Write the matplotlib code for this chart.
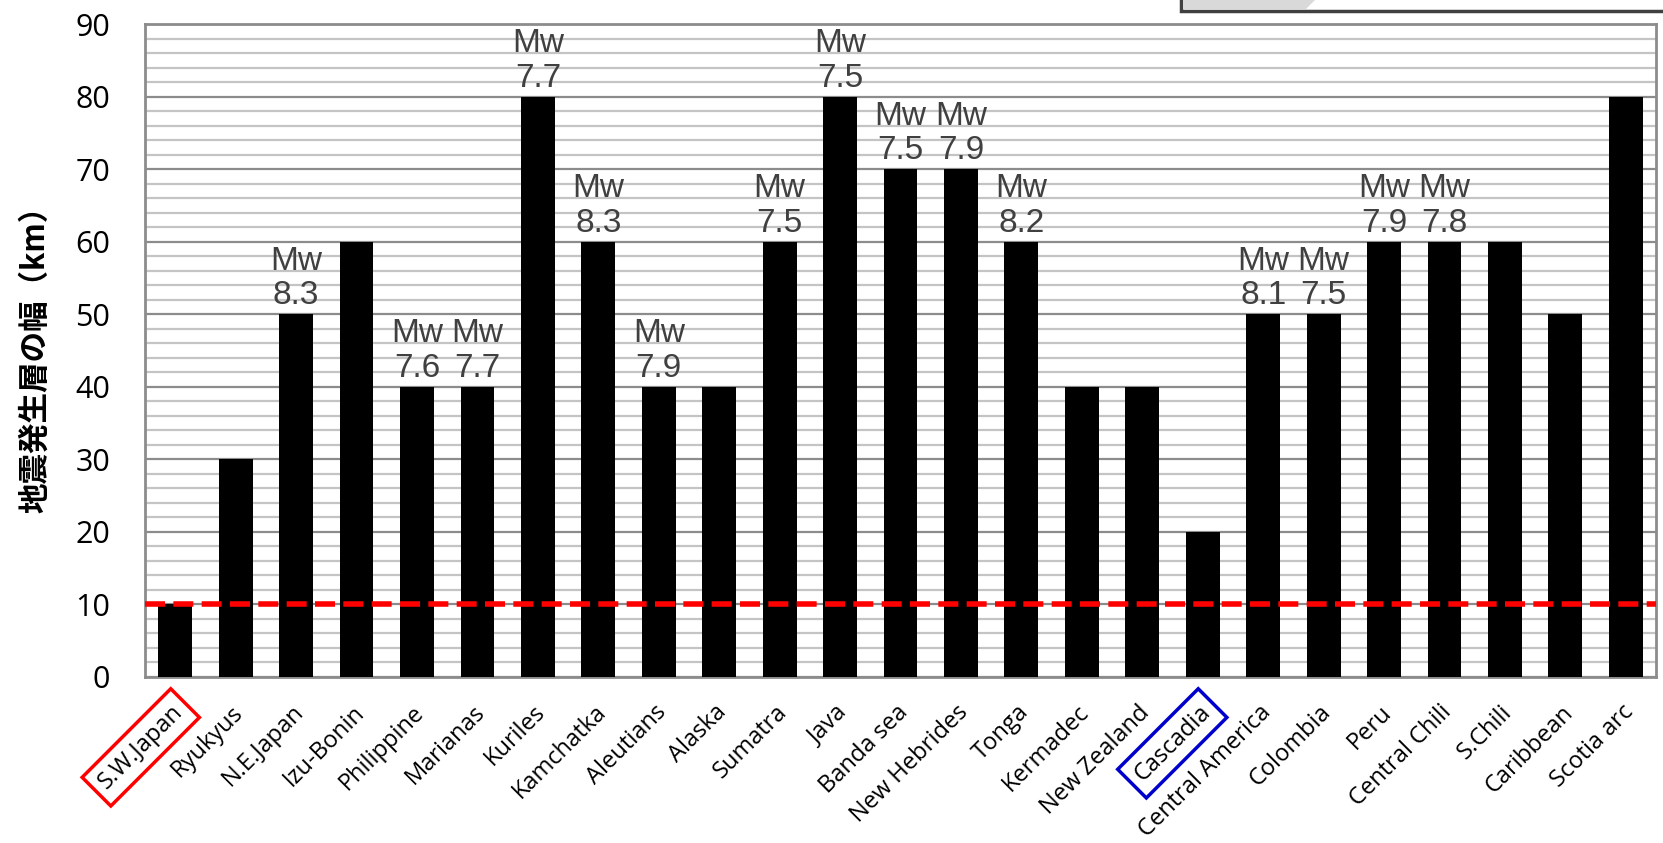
import numpy as np
import matplotlib.pyplot as plt
import matplotlib.transforms as mtransforms
from matplotlib.patches import Rectangle, Polygon
from matplotlib.ticker import MultipleLocator

# Data
regions = ['S.W.Japan', 'Ryukyus', 'N.E.Japan', 'Izu-Bonin', 'Philippine', 'Marianas',
           'Kuriles', 'Kamchatka', 'Aleutians', 'Alaska', 'Sumatra', 'Java', 'Banda sea',
           'New Hebrides', 'Tonga', 'Kermadec', 'New Zealand', 'Cascadia',
           'Central America', 'Colombia', 'Peru', 'Central Chili', 'S.Chili',
           'Caribbean', 'Scotia arc']
width_km = [10, 30, 50, 60, 40, 40, 80, 60, 40, 40, 60, 80, 70, 70, 60, 40, 40, 20,
            50, 50, 60, 60, 60, 50, 80]
mw = [None, None, '8.3', None, '7.6', '7.7', '7.7', '8.3', '7.9', None, '7.5', '7.5',
      '7.5', '7.9', '8.2', None, None, None, '8.1', '7.5', '7.9', '7.8', None, None, None]
boxed = {'S.W.Japan': 'red', 'Cascadia': '#0000cc'}
ref_line = 10

plt.rcParams['font.family'] = ['Noto Sans CJK JP', 'DejaVu Sans']

fig = plt.figure(figsize=(16.63, 8.43), dpi=100)
ax = fig.add_axes([0.0872, 0.197, 0.9086, 0.7745])

x = np.arange(len(regions))
ax.bar(x, width_km, width=0.56, color='black', zorder=3)
ax.axhline(ref_line, color='#ff0000', lw=4, dashes=(3.6, 1.5), zorder=4)

ax.set_xlim(-0.5, len(regions) - 0.5)
ax.set_ylim(0, 90)
ax.yaxis.set_major_locator(MultipleLocator(10))
ax.yaxis.set_minor_locator(MultipleLocator(2))
ax.grid(which='major', axis='y', color='#8c8c8c', lw=1.6, zorder=1)
ax.grid(which='minor', axis='y', color='#c4c4c4', lw=1.6, zorder=1)
for s in ax.spines.values():
    s.set_color('#8c8c8c')
    s.set_linewidth(2)

ax.set_xticks([])
ax.tick_params(axis='y', which='both', length=0, pad=25)
for lab in ax.get_yticklabels():
    lab.set_fontsize(22)
    lab.set_family('Open Sans')

fig.text(0.021, 0.582, '地震発生層の幅（km）', rotation=90, ha='center', va='center',
         fontsize=22, fontweight='bold')

# Mw labels
for i, (v, m) in enumerate(zip(width_km, mw)):
    if m is None:
        continue
    ax.annotate('Mw\n' + m, (i, v), xytext=(0, 2), textcoords='offset points',
                ha='center', va='bottom', fontsize=24, color='#404040',
                family='Liberation Sans', linespacing=1.15, zorder=5)

# rotated category labels
trans = mtransforms.offset_copy(ax.get_xaxis_transform(), fig=fig, x=4, y=-32, units='dots')
for i, name in enumerate(regions):
    kw = {}
    if name in boxed:
        kw['bbox'] = dict(boxstyle='square,pad=0.35', fc='none', ec=boxed[name], lw=2.5)
    ax.text(i, 0, name, transform=trans, rotation=45, rotation_mode='anchor',
            ha='right', va='center', fontsize=17, family='Open Sans', **kw)

# partial box at top right
W, H = 1663, 843
fig.patches.append(Rectangle((1181 / W, 1 - 11 / H), 0.3, 0.1, transform=fig.transFigure,
                             fc='white', ec='#404040', lw=2.5))
fig.patches.append(Polygon([(1183 / W, 1.0), (1315 / W, 1.0), (1306 / W, 1 - 9 / H),
                            (1183 / W, 1 - 9 / H)], closed=True, transform=fig.transFigure,
                           fc='#d9d9d9', ec='none'))

fig.savefig('out.png', dpi=100)
